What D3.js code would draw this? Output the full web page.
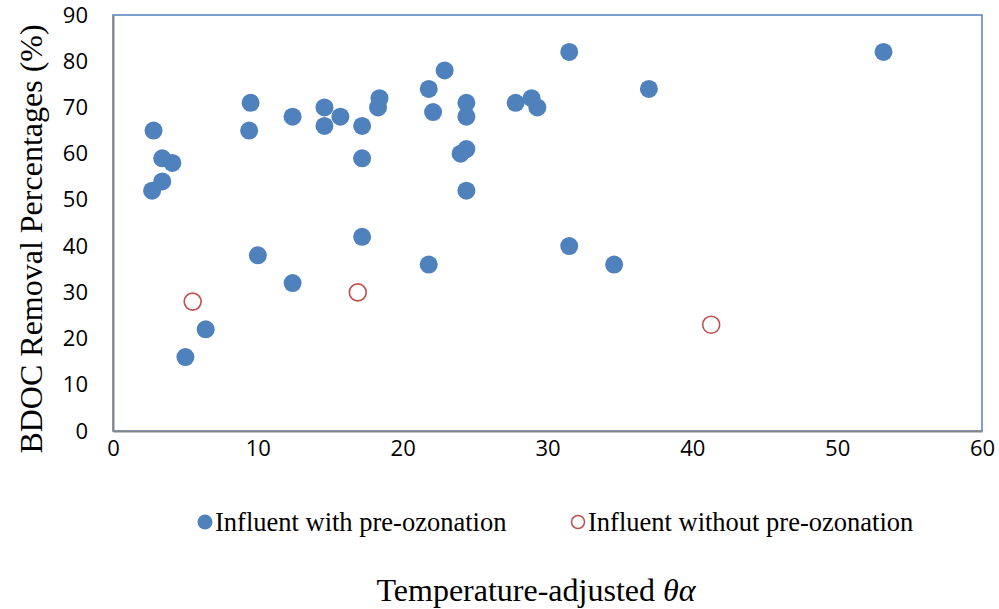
<!DOCTYPE html>
<html>
<head>
<meta charset="utf-8">
<script src="https://cdn.jsdelivr.net/npm/d3@7"></script>
<style>
  body { margin: 0; background: #fff; }
  svg { display: block; }
</style>
</head>
<body>
<div id="chart"></div>
<script>

// influent with pre-ozonation
var withX = [2.7, 2.8, 3.4, 3.4, 4.1, 5.0, 6.4, 9.4, 9.5, 10.0, 12.4, 12.4, 14.6, 14.6, 15.7, 17.2, 17.2, 17.2, 18.3, 18.4,
             21.8, 21.8, 22.1, 22.9, 24.0, 24.4, 24.4, 24.4, 24.4, 27.8, 28.9, 29.3, 31.5, 31.5, 34.6, 37.0, 53.2]
var withY = [52, 65, 59, 54, 58, 16, 22, 65, 71, 38, 68, 32, 70, 66, 68, 66, 59, 42, 70, 72,
             74, 36, 69, 78, 60, 71, 68, 61, 52, 71, 72, 70, 82, 40, 36, 74, 82]

// influent without pre-ozonation
var withoutX = [5.5, 16.9, 41.3]
var withoutY = [28, 30, 23]

var xTicks = [0, 10, 20, 30, 40, 50, 60]
var yTicks = [0, 10, 20, 30, 40, 50, 60, 70, 80, 90]

var seriesNames = ["Influent with pre-ozonation", "Influent without pre-ozonation"]

var width = 999, height = 609
var margin = {top: 15, right: 17, bottom: 178, left: 113}
var w = width - margin.left - margin.right
var h = height - margin.top - margin.bottom

var blue = "#4f81bd", red = "#c0504d", grey = "#868686"
var serif = "'Liberation Serif', 'Times New Roman', serif"

var svg = d3.select("#chart").append("svg")
    .attr("width", width)
    .attr("height", height)

var g = svg.append("g")
    .attr("transform", "translate(" + margin.left + "," + margin.top + ")")

var x = d3.scaleLinear().domain([0, 60]).range([0, w])
var y = d3.scaleLinear().domain([0, 90]).range([h, 0])

// plot area border
g.append("rect")
    .attr("x", 0).attr("y", 0)
    .attr("width", w).attr("height", h)
    .attr("fill", "none")
    .attr("stroke", blue)
    .attr("stroke-width", 1.5)

var xAxis = g.append("g")
    .attr("transform", "translate(0," + h + ")")
    .call(d3.axisBottom(x).tickValues(xTicks).tickSize(0).tickPadding(9))

var yAxis = g.append("g")
    .call(d3.axisLeft(y).tickValues(yTicks).tickSize(0).tickPadding(25))

;[xAxis, yAxis].forEach(function(a) {
    a.select(".domain").attr("stroke", grey).attr("stroke-width", 2)
    a.selectAll("text")
        .attr("font-family", "'Open Sans', 'Liberation Sans', sans-serif")
        .attr("font-size", 22)
        .attr("fill", "#000")
})
xAxis.selectAll("text").attr("dy", "0.71em")

var pts1 = withX.map(function(d, i) { return {x: d, y: withY[i]} })
var pts2 = withoutX.map(function(d, i) { return {x: d, y: withoutY[i]} })

g.selectAll(".with")
    .data(pts1)
    .enter().append("circle")
    .attr("class", "with")
    .attr("cx", function(d) { return x(d.x) })
    .attr("cy", function(d) { return y(d.y) })
    .attr("r", 9)
    .attr("fill", blue)

g.selectAll(".without")
    .data(pts2)
    .enter().append("circle")
    .attr("class", "without")
    .attr("cx", function(d) { return x(d.x) })
    .attr("cy", function(d) { return y(d.y) })
    .attr("r", 8.5)
    .attr("fill", "none")
    .attr("stroke", red)
    .attr("stroke-width", 1.6)

// legend
var legend = svg.append("g")
var items = [
    {name: seriesNames[0], cx: 205, fill: blue, stroke: "none"},
    {name: seriesNames[1], cx: 578, fill: "none", stroke: red}
]
items.forEach(function(it) {
    legend.append("circle")
        .attr("cx", it.cx).attr("cy", 522)
        .attr("r", it.fill === "none" ? 6.5 : 7.5)
        .attr("fill", it.fill)
        .attr("stroke", it.stroke)
        .attr("stroke-width", 1.5)
    legend.append("text")
        .attr("x", it.cx + 10).attr("y", 531)
        .attr("font-family", serif)
        .attr("font-size", 26.5)
        .text(it.name)
})

// axis titles
svg.append("text")
    .attr("transform", "translate(42," + (margin.top + h / 2 + 16) + ") rotate(-90)")
    .attr("text-anchor", "middle")
    .attr("font-family", serif)
    .attr("font-size", 32)
    .text("BDOC Removal Percentages (%)")

var xt = svg.append("text")
    .attr("x", 536).attr("y", 601)
    .attr("text-anchor", "middle")
    .attr("font-family", serif)
    .attr("font-size", 32)
xt.append("tspan").text("Temperature-adjusted ")
xt.append("tspan").attr("font-style", "italic").text("θα")

</script>
</body>
</html>
